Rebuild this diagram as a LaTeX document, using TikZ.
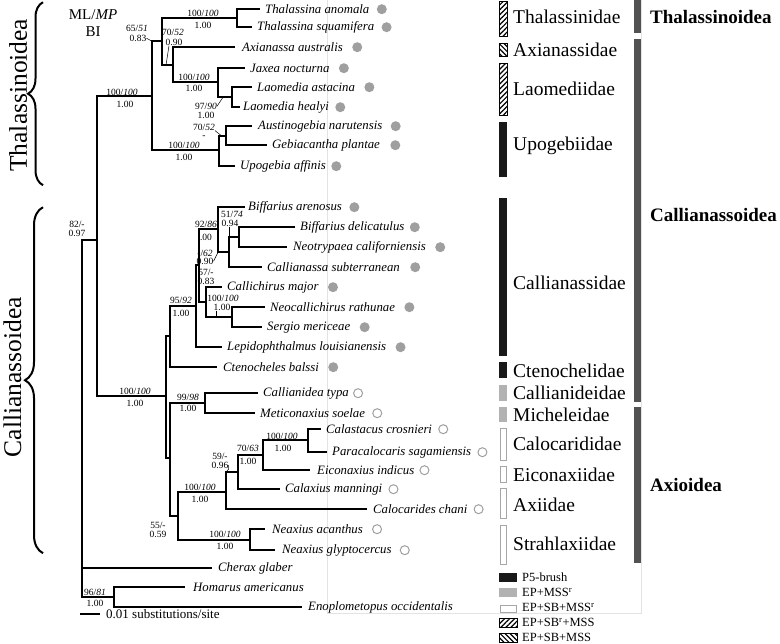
\documentclass[tikz,border=0pt]{standalone}
\usepackage{fontspec}
\setmainfont{Liberation Serif}
\usetikzlibrary{positioning,patterns.meta,decorations.pathreplacing}

\begin{document}
\begin{tikzpicture}[x=1pt,y=-1pt,node distance=4pt,
	branch/.style={line width=2pt},
	lead/.style={line width=0.5pt},
	taxon/.style={
	  inner sep=1pt,
	  font=\fontsize{12.8}{14}\selectfont\itshape
	},
	supp/.style={
	  inner sep=0pt,
	  font=\fontsize{9.5}{10}\selectfont
	},
	famb/.style={
	  anchor=west,
	  inner sep=0pt,
	  font=\fontsize{19.5}{21}\selectfont
	},
	supfamb/.style={
	  famb,
	  font=\fontsize{19}{21}\selectfont\bfseries
	},
	legb/.style={
	  anchor=west,
	  inner sep=0pt,
	  font=\fontsize{12.5}{14}\selectfont
	},
	cladeb/.style={
	  rotate=90,
	  anchor=base,
	  inner sep=0pt,
	  font=\fontsize{25.5}{27}\selectfont
	},
	filledc/.style={circle,fill=gray!75,inner sep=0pt,minimum size=10pt},
	openc/.style={circle,draw=gray!75,line width=1pt,inner sep=0pt,minimum size=9pt},
	hatchne/.style={draw=black,line width=0.8pt,pattern={Lines[angle=45,distance=3.5pt,line width=1.2pt]}},
	hatchnw/.style={draw=black,line width=0.8pt,pattern={Lines[angle=-45,distance=3.5pt,line width=1.2pt]}},
	brushb/.style={fill=black!90,draw=none},
	mssb/.style={fill=gray!60,draw=none},
	sbmssb/.style={fill=white,draw=gray!70,line width=1pt},
	supbar/.style={fill=black!68,draw=none}
	]

	% faint frame of the pasted panel
	\draw[gray!22] (327,0) -- (327,613) -- (641,613) -- (641,0);

	\useasboundingbox (0,0) rectangle (780,643);

	% --- tips
	\coordinate (tA) at (260,9);
	\node[taxon,right=of tA] (nA) {Thalassina anomala};
	\node[filledc,right=6pt of nA] (dA) {};
	\coordinate (tB) at (252,27);
	\node[taxon,right=of tB] (nB) {Thalassina squamifera};
	\node[filledc,right=6pt of nB] (dB) {};
	\coordinate (tC) at (235,47);
	\node[taxon,right=6pt of tC] (nC) {Axianassa australis};
	\node[filledc,right=8pt of nC] (dC) {};
	\coordinate (tD) at (245,68);
	\node[taxon,right=of tD] (nD) {Jaxea nocturna};
	\node[filledc,right=8pt of nD] (dD) {};
	\coordinate (tE) at (252,87);
	\node[taxon,right=of tE] (nE) {Laomedia astacina};
	\node[filledc,right=8pt of nE] (dE) {};
	\coordinate (tF) at (240,107);
	\node[taxon,right=2pt of tF] (nF) {Laomedia healyi};
	\node[filledc,right=5pt of nF] (dF) {};
	\coordinate (tG) at (252,126);
	\node[taxon,right=5pt of tG] (nG) {Austinogebia narutensis};
	\node[filledc,right=7pt of nG] (dG) {};
	\coordinate (tH) at (267,145);
	\node[taxon,right=of tH] (nH) {Gebiacantha plantae};
	\node[filledc,right=9pt of nH] (dH) {};
	\coordinate (tI) at (235,166);
	\node[taxon,right=of tI] (nI) {Upogebia affinis};
	\node[filledc,right=4pt of nI] (dI) {};

	\coordinate (tJ) at (245,207);
	\node[taxon,right=2pt of tJ] (nJ) {Biffarius arenosus};
	\node[filledc,right=6pt of nJ] (dJ) {};
	\coordinate (tK) at (295,227);
	\node[taxon,right=of tK] (nK) {Biffarius delicatulus};
	\node[filledc,right=4pt of nK] (dK) {};
	\coordinate (tL) at (287,247);
	\node[taxon,right=5pt of tL] (nL) {Neotrypaea californiensis};
	\node[filledc,right=8pt of nL] (dL) {};
	\coordinate (tM) at (262,267);
	\node[taxon,right=of tM] (nM) {Callianassa subterranean};
	\node[filledc,right=9pt of nM] (dM) {};
	\coordinate (tN) at (222,287);
	\node[taxon,right=of tN] (nN) {Callichirus major};
	\node[filledc,right=8pt of nN] (dN) {};
	\coordinate (tO) at (265,307);
	\node[taxon,right=of tO] (nO) {Neocallichirus rathunae};
	\node[filledc,right=8pt of nO] (dO) {};
	\coordinate (tP) at (262,327);
	\node[taxon,right=of tP] (nP) {Sergio mericeae};
	\node[filledc,right=8pt of nP] (dP) {};
	\coordinate (tQ) at (222,347);
	\node[taxon,right=of tQ] (nQ) {Lepidophthalmus louisianensis};
	\node[filledc,right=8pt of nQ] (dQ) {};
	\coordinate (tR) at (217,367);
	\node[taxon,right=5pt of tR] (nR) {Ctenocheles balssi};
	\node[filledc,right=8pt of nR] (dR) {};

	\coordinate (tS) at (258,393);
	\node[taxon,right=of tS] (nS) {Callianidea typa};
	\node[openc,right=3pt of nS] (dS) {};
	\coordinate (tT) at (255,413);
	\node[taxon,right=of tT] (nT) {Meticonaxius soelae};
	\node[openc,right=6pt of nT] (dT) {};
	\coordinate (tU) at (321,429);
	\node[taxon,right=of tU] (nU) {Calastacus crosnieri};
	\node[openc,right=5pt of nU] (dU) {};
	\coordinate (tV) at (327,452);
	\node[taxon,right=of tV] (nV) {Paracalocaris sagamiensis};
	\node[openc,right=5pt of nV] (dV) {};
	\coordinate (tW) at (310,470);
	\node[taxon,right=6pt of tW] (nW) {Eiconaxius indicus};
	\node[openc,right=4pt of nW] (dW) {};
	\coordinate (tX) at (280,489);
	\node[taxon,right=of tX] (nX) {Calaxius manningi};
	\node[openc,right=5pt of nX] (dX) {};
	\coordinate (tY) at (367,509);
	\node[taxon,right=5pt of tY] (nY) {Calocarides chani};
	\node[openc,right=5pt of nY] (dY) {};
	\coordinate (tZ) at (265,529);
	\node[taxon,right=6pt of tZ] (nZ) {Neaxius acanthus};
	\node[openc,right=8pt of nZ] (dZ) {};
	\coordinate (tZb) at (275,550);
	\node[taxon,right=6pt of tZb] (nZb) {Neaxius glyptocercus};
	\node[openc,right=7pt of nZb] (dZb) {};

	\coordinate (tCh) at (212,568);
	\node[taxon,right=5pt of tCh] (nCh) {Cherax glaber};
	\coordinate (tHo) at (185,587);
	\node[taxon,right=7pt of tHo] (nHo) {Homarus americanus};
	\coordinate (tEn) at (302,607);
	\node[taxon,right=5pt of tEn] (nEn) {Enoplometopus occidentalis};

	% --- internal nodes
	\coordinate (R) at (82,568);
	\coordinate (ING) at (97,240);
	\coordinate (HE) at (114,597);
	\coordinate (THA) at (152,96);
	\coordinate (ANC) at (162,41);
	\coordinate (THN) at (237,18);
	\coordinate (AXL) at (173,65);
	\coordinate (LAO) at (218,82);
	\coordinate (LAM) at (232,97);
	\coordinate (UPO) at (219,150);
	\coordinate (AUS) at (226,136);
	\coordinate (CA) at (166,396);
	\coordinate (CC) at (170,336);
	\coordinate (C1) at (196,306);
	\coordinate (C2) at (199,265);
	\coordinate (C3) at (218,229);
	\coordinate (C5) at (229,252);
	\coordinate (C6) at (239,237);
	\coordinate (C4) at (206,302);
	\coordinate (C7) at (232,317);
	\coordinate (AX) at (170,458);
	\coordinate (MIC) at (205,403);
	\coordinate (AXI) at (178,516);
	\coordinate (AX1) at (226,492);
	\coordinate (AX2) at (238,472);
	\coordinate (AX3) at (263,455);
	\coordinate (CAL) at (308,440);
	\coordinate (NEA) at (250,540);

	% --- branches
	\draw[branch] (R) |- (ING) (R) |- (tCh) (R) |- (HE);
	\draw[branch] (HE) |- (tHo) (HE) |- (tEn);
	\draw[branch] (ING) |- (THA) (ING) |- (CA);
	\draw[branch] (THA) |- (ANC) (THA) |- (UPO);
	\draw[branch] (ANC) |- (THN) (ANC) |- (AXL);
	\draw[branch] (THN) |- (tA) (THN) |- (tB);
	\draw[branch] (AXL) |- (tC) (AXL) |- (LAO);
	\draw[branch] (LAO) |- (tD) (LAO) |- (LAM);
	\draw[branch] (LAM) |- (tE) (LAM) |- (tF);
	\draw[branch] (UPO) |- (AUS) (UPO) |- (tI);
	\draw[branch] (AUS) |- (tG) (AUS) |- (tH);
	\draw[branch] (CA) |- (CC) (CA) |- (AX);
	\draw[branch] (CC) |- (C1) (CC) |- (tR);
	\draw[branch] (C1) |- (C2) (C1) |- (tQ);
	\draw[branch] (C2) |- (C3) (C2) |- (C4);
	\draw[branch] (C3) |- (tJ) (C3) |- (C5);
	\draw[branch] (C5) |- (C6) (C5) |- (tM);
	\draw[branch] (C6) |- (tK) (C6) |- (tL);
	\draw[branch] (C4) |- (tN) (C4) |- (C7);
	\draw[branch] (C7) |- (tO) (C7) |- (tP);
	\draw[branch] (AX) |- (MIC) (AX) |- (AXI);
	\draw[branch] (MIC) |- (tS) (MIC) |- (tT);
	\draw[branch] (AXI) |- (AX1) (AXI) |- (NEA);
	\draw[branch] (AX1) |- (AX2) (AX1) |- (tY);
	\draw[branch] (AX2) |- (AX3) (AX2) |- (tX);
	\draw[branch] (AX3) |- (CAL) (AX3) |- (tW);
	\draw[branch] (CAL) |- (tU) (CAL) |- (tV);
	\draw[branch] (NEA) |- (tZ) (NEA) |- (tZb);

	% --- support values (ML/MP above, BI below)
	\node[supp] (s1a) at (203,13) {100/\textit{100}};
	\node[supp] (s1b) at (203,25) {1.00};
	\node[supp] (s2a) at (137,28) {65/\textit{51}};
	\node[supp] (s2b) at (138,38) {0.83};
	\node[supp] (s3a) at (173,32) {70/\textit{52}};
	\node[supp] (s3b) at (174,42) {0.90};
	\node[supp] (s4a) at (194,77) {100/\textit{100}};
	\node[supp] (s4b) at (194,88) {1.00};
	\node[supp] (s5a) at (206,106) {97/\textit{90}};
	\node[supp] (s5b) at (206,115) {1.00};
	\node[supp] (s6a) at (204,127) {70/\textit{52}};
	\node[supp] (s6b) at (204,137) {-};
	\node[supp] (s7a) at (184,145) {100/\textit{100}};
	\node[supp] (s7b) at (184,157) {1.00};
	\node[supp] (s8a) at (122,92) {100/\textit{100}};
	\node[supp] (s8b) at (125,104) {1.00};
	\node[supp] (s9a) at (77,224) {82/-};
	\node[supp] (s9b) at (77,233) {0.97};
	\node[supp] (s10a) at (206,224) {92/\textit{86}};
	\node[supp] (s10b) at (206,237) {.00};
	\node[supp] (s11a) at (232,214) {51/\textit{74}};
	\node[supp] (s11b) at (230,223) {0.94};
	\node[supp] (s12a) at (205,253) {-/\textit{62}};
	\node[supp] (s12b) at (205,261) {0.90};
	\node[supp] (s13a) at (206,272) {57/-};
	\node[supp] (s13b) at (206,281) {0.83};
	\node[supp] (s14a) at (223,298) {100/\textit{100}};
	\node[supp] (s14b) at (222,307) {1.00};
	\node[supp] (s15a) at (181,300) {95/\textit{92}};
	\node[supp] (s15b) at (181,313) {1.00};
	\node[supp] (s16a) at (135,391) {100/\textit{100}};
	\node[supp] (s16b) at (135,403) {1.00};
	\node[supp] (s17a) at (188,397) {99/\textit{98}};
	\node[supp] (s17b) at (188,408) {1.00};
	\node[supp] (s18a) at (220,456) {59/-};
	\node[supp] (s18b) at (220,465) {0.96};
	\node[supp] (s19a) at (248,448) {70/\textit{63}};
	\node[supp] (s19b) at (248,461) {1.00};
	\node[supp] (s20a) at (282,436) {100/\textit{100}};
	\node[supp] (s20b) at (283,448) {1.00};
	\node[supp] (s21a) at (200,487) {100/\textit{100}};
	\node[supp] (s21b) at (200,499) {1.00};
	\node[supp] (s22a) at (158,525) {55/-};
	\node[supp] (s22b) at (158,534) {0.59};
	\node[supp] (s23a) at (225,534) {100/\textit{100}};
	\node[supp] (s23b) at (225,546) {1.00};
	\node[supp] (s24a) at (95,592) {96/\textit{81}};
	\node[supp] (s24b) at (95,603) {1.00};

	% pointers from values to their nodes
	\draw[lead] (s2b.east) -- (THA |- ANC);
	\draw[lead] ([xshift=-5pt]s3b.south) -- ([xshift=4pt]ANC |- AXL);
	\draw[lead] (s5a.east) -- ([xshift=5pt]LAO |- LAM);
	\draw[lead] (s6a.south east) -- ([xshift=3pt]UPO |- AUS);
	\draw[lead] ([xshift=-1pt]s11b.south) -- (C5 |- C6);
	\draw[lead] (s12b.east) -- (C3 |- C5);
	\draw[lead] ([xshift=-6pt]s14b.south) -- ([xshift=10pt]C4 |- C7);
	\draw[lead] (s18b.east) to[bend left=40] (AX1 |- AX2);

	% --- header
	\node[inner sep=0pt,font=\fontsize{15}{17}\selectfont] (hdr) at (93,14) {ML/\textit{MP}};
	\node[inner sep=0pt,font=\fontsize{15}{17}\selectfont,below=7pt of hdr] (hdrbi) {BI};

	% --- clade braces
	\draw[decorate,decoration={brace,amplitude=15pt},line width=2pt] (43,185) -- (43,2);
	\node[cladeb] (Tha) at (27,95) {Thalassinoidea};
	\draw[decorate,decoration={brace,amplitude=18pt},line width=2pt] (43,553) -- (43,207);
	\node[cladeb] (Cal) at (21,377) {Callianassoidea};

	% --- family bars
	\draw[hatchne] (499,1) rectangle (507,36);
	\node[famb] (Fth) at (513,17) {Thalassinidae};
	\draw[hatchnw] (499,43) rectangle (507,56);
	\node[famb] (Fax) at (513,50) {Axianassidae};
	\draw[hatchne] (499,63) rectangle (507,115);
	\node[famb] (Fla) at (513,89) {Laomediidae};
	\fill[brushb] (499,122) rectangle (507,177);
	\node[famb] (Fup) at (513,146) {Upogebiidae};
	\fill[brushb] (499,198) rectangle (507,356);
	\node[famb] (Fcs) at (513,283) {Callianassidae};
	\fill[brushb] (499,362) rectangle (507,378);
	\node[famb] (Fct) at (513,371) {Ctenochelidae};
	\fill[mssb] (499,385) rectangle (507,401);
	\node[famb] (Fci) at (513,393) {Callianideidae};
	\fill[mssb] (499,407) rectangle (507,422);
	\node[famb] (Fmi) at (513,415) {Micheleidae};
	\draw[sbmssb] (500,428) rectangle (506,460);
	\node[famb] (Fcc) at (513,444) {Calocarididae};
	\draw[sbmssb] (500,466) rectangle (506,482);
	\node[famb] (Fei) at (513,475) {Eiconaxiidae};
	\draw[sbmssb] (500,488) rectangle (506,518);
	\node[famb] (Fai) at (513,505) {Axiidae};
	\draw[sbmssb] (500,525) rectangle (506,564);
	\node[famb] (Fst) at (513,544) {Strahlaxiidae};

	% --- superfamily bars
	\fill[supbar] (634,0) rectangle (641,33);
	\node[supfamb] (SFth) at (650,17) {Thalassinoidea};
	\fill[supbar] (634,39) rectangle (641,402);
	\node[supfamb] (SFca) at (650,215) {Callianassoidea};
	\fill[supbar] (634,407) rectangle (641,563);
	\node[supfamb] (SFax) at (650,485) {Axioidea};

	% --- legend
	\fill[brushb] (499,573) rectangle (517,582);
	\node[legb] (L1) at (522,577) {P5-brush};
	\fill[mssb] (499,588) rectangle (517,597);
	\node[legb] (L2) at (522,592) {EP+MSS\textsuperscript{r}};
	\draw[sbmssb] (500,605) rectangle (516,612);
	\node[legb] (L3) at (522,607) {EP+SB+MSS\textsuperscript{r}};
	\draw[hatchne] (499,618) rectangle (517,627);
	\node[legb] (L4) at (522,622) {EP+SB\textsuperscript{r}+MSS};
	\draw[hatchnw] (499,633) rectangle (517,642);
	\node[legb] (L5) at (522,637) {EP+SB+MSS};

	% --- scale bar
	\coordinate (sc0) at (80,614);
	\coordinate (sc1) at (100,614);
	\draw[branch] (sc0) -- (sc1);
	\node[legb,font=\fontsize{13}{15}\selectfont,right=6pt of sc1] (scl) {0.01 substitutions/site};
\end{tikzpicture}
\end{document}
